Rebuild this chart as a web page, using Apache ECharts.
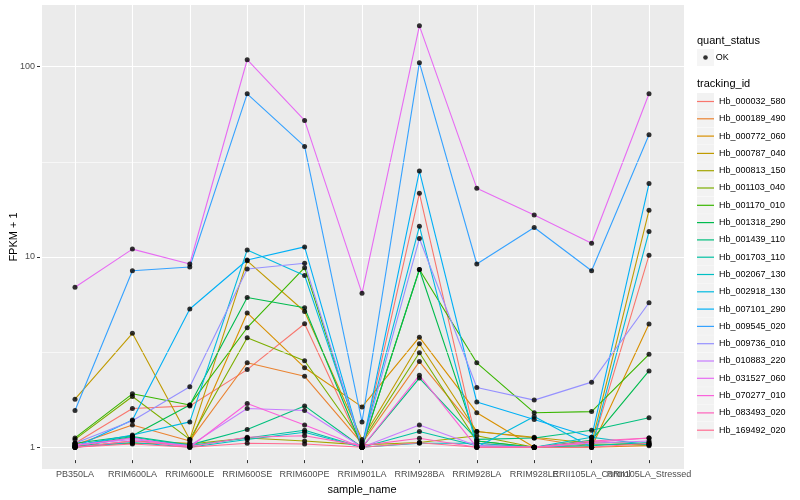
<!DOCTYPE html>
<html><head><meta charset="utf-8">
<script src="https://cdn.jsdelivr.net/npm/echarts@6/dist/echarts.min.js"></script>
<style>html,body{margin:0;padding:0;background:#fff}#c{width:800px;height:500px}</style>
</head><body><div id="c"></div>
<script>
const categories = ['PB350LA','RRIM600LA','RRIM600LE','RRIM600SE','RRIM600PE','RRIM901LA','RRIM928BA','RRIM928LA','RRIM928LE','RRII105LA_Control','RRII105LA_Stressed'];
const trackingIds = ['Hb_000032_580','Hb_000189_490','Hb_000772_060','Hb_000787_040','Hb_000813_150','Hb_001103_040','Hb_001170_010','Hb_001318_290','Hb_001439_110','Hb_001703_110','Hb_002067_130','Hb_002918_130','Hb_007101_290','Hb_009545_020','Hb_009736_010','Hb_010883_220','Hb_031527_060','Hb_070277_010','Hb_083493_020','Hb_169492_020'];
const palette = ['#F8766D','#EA8331','#D89000','#C09B00','#A3A500','#7CAE00','#39B600','#00BB4E','#00BF7D','#00C1A3','#00BFC4','#00BAE0','#00B0F6','#35A2FF','#9590FF','#C77CFF','#E76BF3','#FA62DB','#FF62BC','#FF6C91'];

const hb_000032_580 = [1.05, 1.60, 1.65, 2.56, 4.46, 1.00, 21.6, 1.05, 1.00, 1.00, 10.2];
const hb_000189_490 = [1.03, 1.31, 1.08, 2.78, 2.36, 1.05, 2.82, 1.21, 1.12, 1.00, 1.02];
const hb_000772_060 = [1.00, 1.08, 1.05, 5.08, 2.62, 1.63, 3.79, 1.52, 1.00, 1.00, 4.44];
const hb_000787_040 = [1.79, 3.97, 1.10, 9.55, 5.17, 1.10, 3.50, 1.21, 1.13, 1.05, 17.6];
const hb_000813_150 = [1.02, 1.05, 1.04, 1.12, 1.08, 1.03, 1.06, 1.15, 1.00, 1.07, 1.04];
const hb_001103_040 = [1.10, 1.85, 1.10, 3.76, 2.85, 1.07, 3.14, 1.08, 1.00, 1.04, 1.03];
const hb_001170_010 = [1.12, 1.91, 1.67, 4.25, 8.79, 1.00, 8.60, 2.78, 1.52, 1.54, 3.08];
const hb_001318_290 = [1.05, 1.15, 1.67, 6.13, 5.41, 1.00, 8.60, 1.08, 1.00, 1.09, 2.52];
const hb_001439_110 = [1.02, 1.14, 1.03, 1.24, 1.65, 1.00, 2.31, 1.10, 1.12, 1.23, 1.43];
const hb_001703_110 = [1.00, 1.13, 1.02, 1.12, 1.23, 1.00, 1.21, 1.02, 1.00, 1.02, 1.06];
const hb_002067_130 = [1.00, 1.06, 1.00, 1.10, 1.20, 1.00, 1.05, 1.05, 1.00, 1.13, 1.03];
const hb_002918_130 = [1.02, 1.16, 1.36, 10.9, 8.00, 1.02, 14.5, 1.00, 1.45, 1.00, 13.6];
const hb_007101_290 = [1.00, 1.39, 5.33, 9.64, 11.3, 1.00, 28.3, 1.73, 1.40, 1.13, 24.3];
const hb_009545_020 = [1.56, 8.47, 8.86, 72.0, 38.1, 1.36, 105, 9.19, 14.3, 8.47, 43.9];
const hb_009736_010 = [1.05, 1.38, 2.08, 8.65, 9.27, 1.00, 12.5, 2.06, 1.77, 2.20, 5.75];
const hb_010883_220 = [1.03, 1.10, 1.02, 1.60, 1.56, 1.00, 1.31, 1.02, 1.00, 1.05, 1.08];
const hb_031527_060 = [6.93, 11.0, 9.19, 108.8, 52.2, 6.44, 164, 23.0, 16.6, 11.8, 72.1];
const hb_070277_010 = [1.02, 1.12, 1.00, 1.70, 1.31, 1.00, 2.39, 1.00, 1.00, 1.06, 1.12];
const hb_083493_020 = [1.00, 1.08, 1.01, 1.13, 1.15, 1.02, 1.115, 1.00, 1.00, 1.08, 1.12];
const hb_169492_020 = [1.00, 1.04, 1.00, 1.05, 1.04, 1.00, 1.057, 1.00, 1.00, 1.00, 1.05];

const seriesValues = [hb_000032_580, hb_000189_490, hb_000772_060, hb_000787_040, hb_000813_150,
  hb_001103_040, hb_001170_010, hb_001318_290, hb_001439_110, hb_001703_110, hb_002067_130,
  hb_002918_130, hb_007101_290, hb_009545_020, hb_009736_010, hb_010883_220, hb_031527_060,
  hb_070277_010, hb_083493_020, hb_169492_020];

const yRange = [1, 100];                // log axis span between the outer major breaks (1, 10, 100)
const yMinorBreaks = [3.1623, 31.623];  // ggplot minor grid lines
const quantStatus = 'OK';

const FONT = '"Liberation Sans", Arial, Helvetica, sans-serif';

const lineSeries = trackingIds.map((id, i) => ({
  name: id, type: 'line', xAxisIndex: 3, yAxisIndex: 3, clip: false,
  data: seriesValues[i], symbol: 'none', showSymbol: false,
  lineStyle: { width: 1.1, color: palette[i] }, itemStyle: { color: palette[i] },
  z: 3, silent: true
}));
const points = [];
seriesValues.forEach(vals => vals.forEach((v, j) => points.push([j, v])));

const option = {
  animation: false,
  textStyle: { fontFamily: FONT },
  title: [
    { text: 'quant_status', left: 697, top: 34.2, padding: 0,
      textStyle: { fontSize: 11, fontWeight: 'normal', color: '#000', fontFamily: FONT, lineHeight: 13 } },
    { text: 'tracking_id', left: 697, top: 77.5, padding: 0,
      textStyle: { fontSize: 11, fontWeight: 'normal', color: '#000', fontFamily: FONT, lineHeight: 13 } }
  ],
  grid: [
    { left: 40, right: 116, top: 5, bottom: 31, show: true, backgroundColor: '#EBEBEB', borderWidth: 0 },
    { left: 40, right: 116, top: 66.7, bottom: 52.7 },
    { left: 75, right: 151, top: 5, bottom: 31 },
    { left: 75, right: 151, top: 66.7, bottom: 52.7 }
  ],
  xAxis: [
    { gridIndex: 0, type: 'value', min: 0, max: 1, show: false },
    { gridIndex: 1, type: 'value', min: 0, max: 1, show: false },
    { gridIndex: 2, type: 'category', data: categories, boundaryGap: false,
      axisLine: { show: false },
      axisTick: { show: true, length: 3, lineStyle: { color: '#333', width: 1 } },
      axisLabel: { interval: 0, hideOverlap: false, fontSize: 9, color: '#4D4D4D', margin: 10, fontFamily: FONT },
      splitLine: { show: true, lineStyle: { color: '#fff', width: 1.1 } },
      name: 'sample_name', nameLocation: 'middle', nameGap: 14,
      nameTextStyle: { fontSize: 11, color: '#000', fontFamily: FONT } },
    { gridIndex: 3, type: 'category', data: categories, boundaryGap: false, show: false }
  ],
  yAxis: [
    { gridIndex: 0, type: 'value', min: 0, max: 1,
      axisLine: { show: false }, axisTick: { show: false }, axisLabel: { show: false }, splitLine: { show: false },
      name: 'FPKM + 1', nameLocation: 'middle', nameRotate: 90, nameGap: 23,
      nameTextStyle: { fontSize: 11, color: '#000', fontFamily: FONT } },
    { gridIndex: 1, type: 'log', logBase: 10, min: yRange[0], max: yRange[1],
      axisLine: { show: false },
      axisTick: { show: true, length: 3, lineStyle: { color: '#333', width: 1 } },
      axisLabel: { fontSize: 9, color: '#4D4D4D', margin: 5, fontFamily: FONT, formatter: v => String(Math.round(v)) },
      splitLine: { show: true, lineStyle: { color: '#fff', width: 1.1 } } },
    { gridIndex: 2, type: 'value', min: 0, max: 1, show: false, splitLine: { show: false } },
    { gridIndex: 3, type: 'log', logBase: 10, min: yRange[0], max: yRange[1], show: false, splitLine: { show: false } }
  ],
  legend: [
    { data: [{ name: quantStatus, itemStyle: { color: '#F2F2F2' } }], selectedMode: false,
      left: 697, top: 49, padding: 0, orient: 'vertical', icon: 'rect', itemWidth: 17, itemHeight: 17,
      itemStyle: { borderWidth: 0 }, textStyle: { color: 'rgba(0,0,0,0)', fontSize: 9, lineHeight: 17 } },
    { data: [{ name: quantStatus, itemStyle: { color: '#000' } }], selectedMode: false,
      left: 703.2, top: 49, padding: 0, orient: 'vertical', icon: 'circle', itemWidth: 4.6, itemHeight: 4.6,
      itemStyle: { borderWidth: 0 },
      textStyle: { color: '#000', fontSize: 9, lineHeight: 17, fontFamily: FONT, padding: [0, 0, 0, 3] } },
    { data: trackingIds.map(n => ({ name: n, itemStyle: { color: '#F2F2F2' } })), selectedMode: false,
      left: 697, top: 93, padding: 0, orient: 'vertical', icon: 'rect', itemWidth: 17, itemHeight: 17, itemGap: 0.3,
      itemStyle: { borderWidth: 0 }, textStyle: { color: 'rgba(0,0,0,0)', fontSize: 9, lineHeight: 17 } },
    { data: trackingIds.map((n, i) => ({ name: n, itemStyle: { color: palette[i] } })), selectedMode: false,
      left: 697, top: 93, padding: 0, orient: 'vertical', icon: 'rect', itemWidth: 17, itemHeight: 1.2, itemGap: 0.3,
      itemStyle: { borderWidth: 0 }, textStyle: { color: '#000', fontSize: 9, lineHeight: 17, fontFamily: FONT } }
  ],
  series: [
    { type: 'line', name: '__minor', xAxisIndex: 1, yAxisIndex: 1, data: [[0, 1]], symbol: 'none',
      lineStyle: { opacity: 0 }, silent: true, z: 1,
      markLine: { silent: true, symbol: 'none', label: { show: false },
        lineStyle: { color: '#fff', width: 0.6, type: 'solid' },
        data: yMinorBreaks.map(v => ({ yAxis: v })) } },
    ...lineSeries,
    { type: 'scatter', name: quantStatus, xAxisIndex: 3, yAxisIndex: 3, data: points, clip: false,
      symbol: 'circle', symbolSize: 5, itemStyle: { color: '#000' }, z: 5, silent: true }
  ]
};
const chart = echarts.init(document.getElementById('c'), null, { renderer: 'canvas' });
chart.setOption(option);
</script>
</body></html>
